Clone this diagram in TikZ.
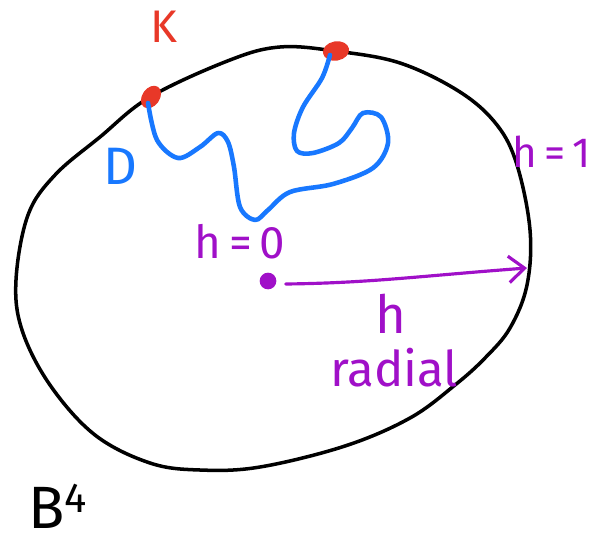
\documentclass[tikz,border=0pt]{standalone}
\usepackage{fontspec}
\setmainfont{Fira Sans}
\usetikzlibrary{shapes.geometric,arrows.meta}
\definecolor{knotred}{RGB}{232,56,40}
\definecolor{discblue}{RGB}{24,120,255}
\definecolor{hpurple}{RGB}{160,16,200}
\tikzset{
  outline/.style={line width=2pt, black, line join=round},
  disc/.style={line width=2.6pt, discblue, line cap=round, line join=round},
  knotdot/.style={ellipse, fill=knotred, inner sep=0pt},
  lbl/.style={inner sep=0pt, anchor=center},
  harrow/.style={line width=1.8pt, hpurple, line cap=round, -{Straight Barb[length=9pt,width=15pt,line width=1.8pt]}},
}
\newcommand{\fs}[1]{\fontsize{#1}{#1}\selectfont}
\begin{document}
\begin{tikzpicture}[x=0.02cm,y=-0.02cm]
\useasboundingbox (0,0) rectangle (597,544);
% boundary of B^4
\draw[outline] plot[smooth cycle, tension=0.6] coordinates {
  (16,280) (28,215) (55,175) (100,137) (150,97) (230,60) (280,47)
  (335,51) (400,63) (460,92) (497,125) (517,165) (530,230) (527,285)
  (510,328) (485,358) (455,385) (410,418) (345,446) (260,467) (200,470)
  (150,463) (95,435) (50,385) (22,330)};
% knot points
\node[knotdot, minimum width=14pt, minimum height=10pt, rotate=55] (k1) at (151,97) {};
\node[knotdot, minimum width=15pt, minimum height=11pt, rotate=10] (k2) at (336,51) {};
% disc D
\coordinate (d1) at (148,103);
\coordinate (d2) at (330,55);
\draw[disc] plot[smooth, tension=0.55] coordinates {
  (d1) (157,140) (178,158) (200,147) (218,133) (228,142) (234,167)
  (240,207) (255,220) (268,210) (290,192) (333,184) (373,168) (388,143)
  (381,117) (363,113) (352,128) (339,143) (313,153) (297,151) (294,133)
  (303,107) (322,78) (d2)};
% labels
\node[lbl, knotred] (K) at (164,27) {\fs{26}K};
\node[lbl, discblue] (D) at (120,166) {\fs{30}D};
\node[lbl, hpurple] (h0) at (240,242) {\fs{26}h\,=\,0};
\node[lbl, hpurple] (h1) at (552,152) {\fs{24}h\,=\,1};
\node[lbl, hpurple] (h) at (391,314) {\fs{30}h};
\node[lbl, hpurple] (radial) at (394,368) {\fs{28}radial};
\node[lbl] (B) at (58,506) {\fs{34}B$^{\fs{20}\mathrm{4}}$};
% centre and radial arrow
\node[circle, fill=hpurple, minimum size=9.5pt, inner sep=0pt] (c) at (268,281) {};
\coordinate (rim) at (527,268);
\draw[harrow] (c.east) ++(9,3) .. controls (370,283) and (420,276) .. (rim);
\end{tikzpicture}
\end{document}
